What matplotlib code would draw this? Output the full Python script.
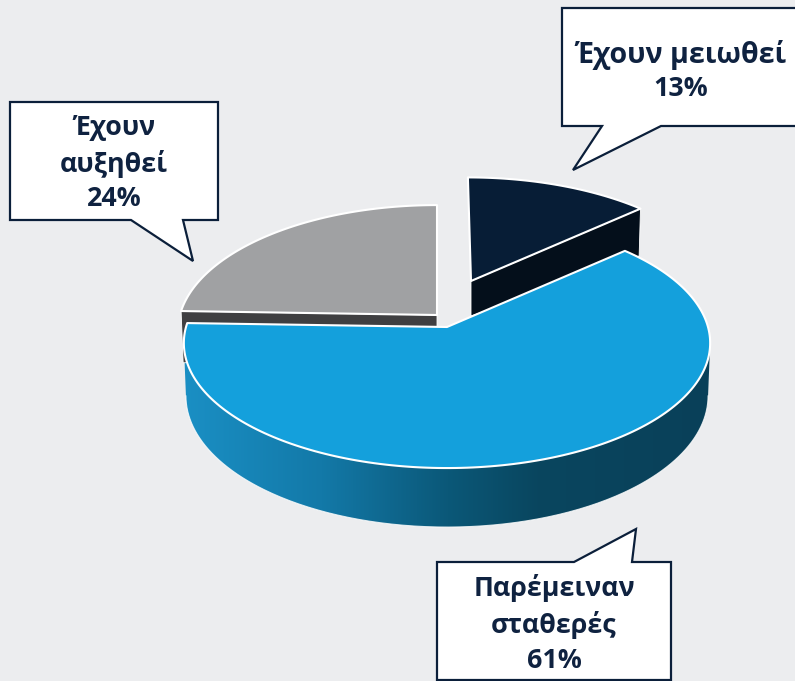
import numpy as np
import matplotlib
matplotlib.use("Agg")
import matplotlib.pyplot as plt
from matplotlib.patches import Polygon
from matplotlib.colors import LinearSegmentedColormap

# --- data ---
categories = ["Έχουν μειωθεί", "Παρέμειναν σταθερές", "Έχουν αυξηθεί"]
values = [13, 61, 24]
label_lines = [["Έχουν μειωθεί", "13%"],
               ["Παρέμειναν", "σταθερές", "61%"],
               ["Έχουν", "αυξηθεί", "24%"]]

# --- style ---
BG = "#ecedef"
TEXT = "#0f2240"
LINE = "#0b1f3a"
top_colors = ["#071d36", "#14a0dc", "#a0a1a3"]
side_colors = ["#040f1b", None, "#3f3f41"]
apex = [(471, 281), (447, 327), (437, 315)]
scale_x = [0.965, 1.0, 0.985]
scale_y = [0.95, 1.0, 1.008]
shear = [0.03, 0.0, 0.0]
R, RY, K = 261.0, 123.0, 0.128
apex_depth = 35

fig = plt.figure(figsize=(7.95, 6.81), dpi=100, facecolor=BG)
ax = fig.add_axes([0, 0, 1, 1])
ax.set_xlim(0, 795)
ax.set_ylim(681, 0)
ax.axis("off")


def rim(theta, i, rx=1.0):
    vx, vy = apex[i]
    u, v = np.sin(theta), np.cos(theta)
    p = 1 / (1 + K * v)
    y = vy - RY * scale_y[i] * v * p
    x = vx + R * scale_x[i] * rx * u * p - shear[i] * (vy - y)
    return x, y


def rim_depth(theta):
    return 52 - 7 * np.cos(theta)


fracs = np.array(values, dtype=float) / np.sum(values)
edges = np.concatenate([[0], np.cumsum(fracs)]) * 2 * np.pi
order = [2, 0, 1]  # back slices first

for i in order:
    t0, t1 = edges[i], edges[i + 1]
    vx, vy = apex[i]
    th = np.linspace(t0, t1, 200)
    x, y = rim(th, i)
    if i == 1:
        # front wall with gradient
        a = np.arccos(-K)
        tw = np.linspace(a, 2 * np.pi - a, 300)
        xt, yt = rim(tw, i)
        xb, yb = rim(tw, i, 0.992)
        yb = yb + rim_depth(tw)
        pts = np.r_[np.c_[xt, yt], np.c_[xb, yb][::-1]]
        wall = Polygon(pts, closed=True, fc="none", ec="none", zorder=i + 2)
        ax.add_patch(wall)
        cmap = LinearSegmentedColormap.from_list("wall", [
            (0.0, "#1a8fc4"), (0.26, "#1379a8"), (0.50, "#0b5878"),
            (0.67, "#09465f"), (1.0, "#0a4059")])
        im = ax.imshow(np.linspace(0, 1, 256)[None, :], cmap=cmap, aspect="auto",
                       extent=(184, 712, 530, 320), zorder=i + 2)
        im.set_clip_path(wall)
        ax.set_xlim(0, 795)
        ax.set_ylim(681, 0)
        ax.plot(xb, yb, color="white", lw=0.8, alpha=0.8, zorder=i + 2)
    else:
        # cut wall facing the viewer
        tc = t1 if i == 0 else t0
        rx_, ry_ = rim(tc, i)
        rbx, rby = rim(tc, i, 0.992)
        rby = rby + rim_depth(tc)
        ax.add_patch(Polygon([(vx, vy), (rx_, ry_), (rbx, rby), (vx, vy + apex_depth)],
                             closed=True, fc=side_colors[i], ec="white", lw=0.6,
                             zorder=i + 2))
    ax.add_patch(Polygon(np.r_[[[vx, vy]], np.c_[x, y]], closed=True,
                         fc=top_colors[i], ec="white", lw=1.5,
                         joinstyle="round", zorder=i + 3))

# --- callouts ---
callouts = [
    [(562, 8), (800, 8), (800, 126), (661, 126), (573, 170), (602, 126), (562, 126)],
    [(437, 562), (574, 562), (636, 529), (632, 562), (671, 562), (671, 680), (437, 680)],
    [(10, 102), (218, 102), (218, 220), (183, 220), (193, 261), (131, 220), (10, 220)],
]
text_pos = [(681, [55, 89]), (554, [588, 625, 661]), (114, [128, 164, 199])]
line_size = [[20.6, 19.3], [19.3, 19.3, 19.3], [19.3, 19.3, 19.3]]
for poly, (tx, ys), lines, sizes in zip(callouts, text_pos, label_lines, line_size):
    ax.add_patch(Polygon(poly, closed=True, fc="white", ec=LINE, lw=1.6,
                         joinstyle="miter", zorder=10))
    for ly, line, fs in zip(ys, lines, sizes):
        ax.text(tx, ly, line, ha="center", va="center", fontsize=fs,
                family="Open Sans", fontweight="bold", color=TEXT, zorder=11)

fig.savefig("out.png", dpi=100, facecolor=BG)
